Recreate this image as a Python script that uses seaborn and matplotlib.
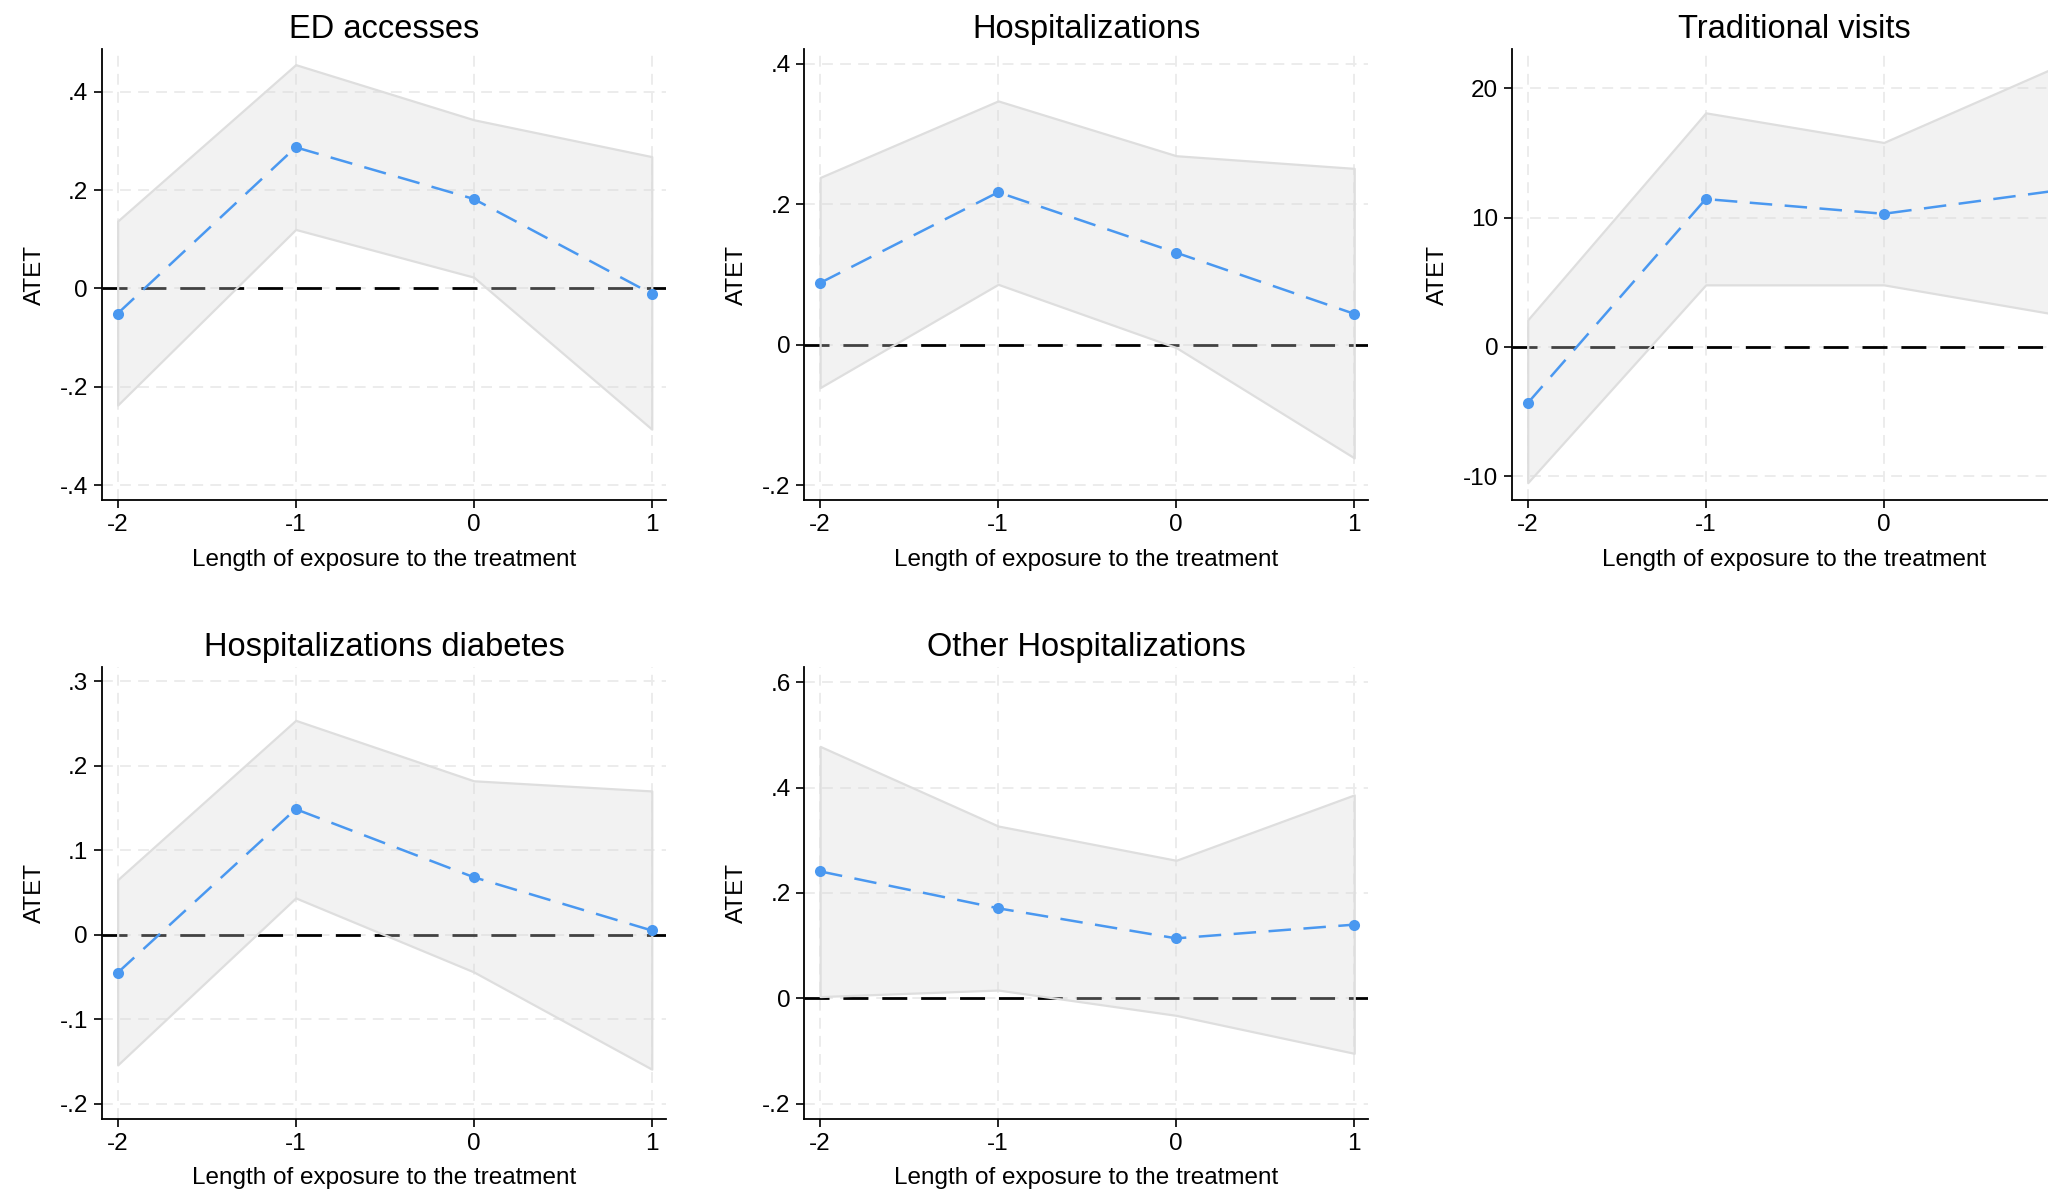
import numpy as np
import pandas as pd
import seaborn as sns
import matplotlib.pyplot as plt

sns.set_style('white')
plt.rcParams['font.family'] = ['Liberation Sans', 'DejaVu Sans']
plt.rcParams['text.color'] = 'black'
plt.rcParams['axes.labelcolor'] = 'black'
plt.rcParams['xtick.color'] = 'black'
plt.rcParams['ytick.color'] = 'black'

# event-time periods
periods = [-2, -1, 0, 1]

titles = ['ED accesses', 'Hospitalizations', 'Traditional visits',
          'Hospitalizations diabetes', 'Other Hospitalizations']

# point estimates
ed_est = [-0.051, 0.287, 0.182, -0.011]
hosp_est = [0.088, 0.217, 0.131, 0.044]
trad_est = [-4.34, 11.43, 10.29, 12.14]
diab_est = [-0.045, 0.1485, 0.068, 0.005]
other_est = [0.241, 0.171, 0.114, 0.140]

# 95% CI upper bounds
ed_hi = [0.137, 0.455, 0.343, 0.268]
hosp_hi = [0.238, 0.347, 0.269, 0.251]
trad_hi = [2.09, 18.09, 15.8, 21.83]
diab_hi = [0.065, 0.2535, 0.182, 0.170]
other_hi = [0.478, 0.327, 0.262, 0.386]

# 95% CI lower bounds
ed_lo = [-0.237, 0.120, 0.023, -0.286]
hosp_lo = [-0.061, 0.086, -0.004, -0.161]
trad_lo = [-10.49, 4.8, 4.8, 2.44]
diab_lo = [-0.154, 0.0435, -0.044, -0.159]
other_lo = [0.0036, 0.016, -0.032, -0.104]

# y ticks and labels (Stata style)
ed_ticks = [-0.4, -0.2, 0, 0.2, 0.4]
ed_labels = ['-.4', '-.2', '0', '.2', '.4']
hosp_ticks = [-0.2, 0, 0.2, 0.4]
hosp_labels = ['-.2', '0', '.2', '.4']
trad_ticks = [-10, 0, 10, 20]
trad_labels = ['-10', '0', '10', '20']
diab_ticks = [-0.2, -0.1, 0, 0.1, 0.2, 0.3]
diab_labels = ['-.2', '-.1', '0', '.1', '.2', '.3']
other_ticks = [-0.2, 0, 0.2, 0.4, 0.6]
other_labels = ['-.2', '0', '.2', '.4', '.6']

ylims = [(-0.431, 0.487), (-0.2216, 0.421), (-11.86, 23.03),
         (-0.218, 0.316), (-0.2286, 0.6276)]

panels = [
    (ed_est, ed_lo, ed_hi, ed_ticks, ed_labels),
    (hosp_est, hosp_lo, hosp_hi, hosp_ticks, hosp_labels),
    (trad_est, trad_lo, trad_hi, trad_ticks, trad_labels),
    (diab_est, diab_lo, diab_hi, diab_ticks, diab_labels),
    (other_est, other_lo, other_hi, other_ticks, other_labels),
]

# axes positions (third column runs off the right edge like the original)
lefts = [0.0498, 0.3928, 0.7383, 0.0498, 0.3928]
bottoms = [0.5805, 0.5805, 0.5805, 0.062, 0.062]
w, h = 0.2754, 0.3785

blue = '#4a98f0'

fig = plt.figure(figsize=(20.48, 11.93), dpi=100)

for i, (est, lo, hi, ticks, labels) in enumerate(panels):
    ax = fig.add_axes([lefts[i], bottoms[i], w, h])
    df = pd.DataFrame({'period': periods, 'atet': est, 'lo': lo, 'hi': hi})

    ax.axhline(0, color='black', lw=2, ls=(0, (9, 5)), zorder=1)
    ax.fill_between(df['period'], df['lo'], df['hi'], facecolor=(0.847, 0.847, 0.847, 0.31),
                    edgecolor='#dedede', lw=1.6, zorder=2)
    sns.lineplot(data=df, x='period', y='atet', ax=ax, color=blue, lw=1.8,
                 marker='o', markersize=8, markeredgewidth=0, zorder=3)
    ax.lines[-1].set_dashes([9, 5])

    ax.set_xlim(-2.088, 1.08)
    ax.set_ylim(*ylims[i])
    ax.set_xticks(periods)
    xlabs = [str(p) for p in periods]
    if i == 2:
        # the last tick of this panel falls outside the picture in the original
        xlabs[-1] = ''
    ax.set_xticklabels(xlabs)
    ax.set_yticks(ticks)
    ax.set_yticklabels(labels)

    ax.grid(True, color='#ebebeb', ls=(0, (6, 4)), lw=1.3, zorder=0)
    ax.set_axisbelow(True)
    sns.despine(ax=ax)
    for s in ['left', 'bottom']:
        ax.spines[s].set_color('black')
        ax.spines[s].set_linewidth(1.3)
    ax.tick_params(axis='both', direction='out', length=6, width=1.2,
                   color='black', labelsize=17.5, pad=4, bottom=True, left=True)

    ax.set_title(titles[i], fontsize=23.5, pad=8)
    ax.set_xlabel('Length of exposure to the treatment', fontsize=17.5, labelpad=9)
    ax.set_ylabel('ATET', fontsize=17.5, labelpad=10)

fig.savefig('out.png', dpi=100)
